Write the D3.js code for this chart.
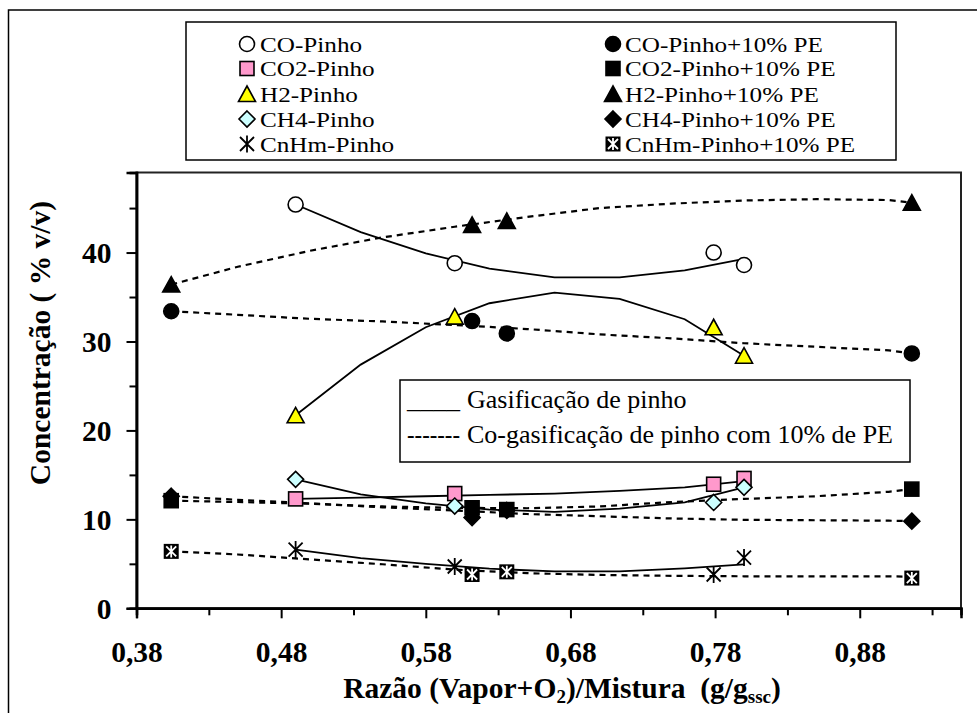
<!DOCTYPE html>
<html><head><meta charset="utf-8">
<script src="https://cdn.jsdelivr.net/npm/d3@7"></script>
<style>
body{margin:0;background:#fff}
svg{display:block}
</style>
</head><body>
<svg id="c" width="977" height="713"></svg>
<script>
// ---------------- DATA ----------------
const xPinho = [0.490, 0.600, 0.779, 0.800];
const coPinho = [45.4, 38.8, 40.0, 38.6];
const co2Pinho = [12.3, 12.9, 13.95, 14.6];
const h2Pinho = [21.7, 32.8, 31.6, 28.4];
const ch4Pinho = [14.5, 11.5, 11.9, 13.6];
const cnhmPinho = [6.6, 4.7, 3.8, 5.7];

const xPE = [0.404, 0.612, 0.636, 0.916];
const coPE = [33.4, 32.3, 30.9, 28.65];
const co2PE = [12.1, 11.3, 11.1, 13.4];
const h2PE = [36.4, 43.1, 43.55, 45.6];
const ch4PE = [12.6, 10.2, 11.0, 9.8];
const cnhmPE = [6.4, 3.8, 4.1, 3.4];

// trend lines
const trendXPinho = [0.49, 0.535, 0.58, 0.624, 0.669, 0.714, 0.759, 0.80];
const trendCoPinho = [45.4, 42.3, 39.9, 38.2, 37.2, 37.2, 38.0, 39.3];
const trendH2Pinho = [21.7, 27.4, 31.6, 34.3, 35.5, 34.8, 32.5, 28.4];
const trendCo2Pinho = [12.3, 12.45, 12.6, 12.75, 12.9, 13.2, 13.6, 14.3];
const trendCh4Pinho = [14.5, 12.8, 11.8, 11.1, 10.85, 11.2, 11.9, 13.6];
const trendCnhmPinho = [6.6, 5.65, 5.0, 4.45, 4.15, 4.15, 4.5, 4.95];

const trendXPE = [0.404, 0.45, 0.50, 0.55, 0.60, 0.65, 0.70, 0.75, 0.80, 0.85, 0.90, 0.916];
const trendCoPE = [33.4, 33.0, 32.55, 32.25, 31.85, 31.4, 30.8, 30.35, 29.8, 29.4, 29.0, 28.65];
const trendH2PE = [36.4, 38.4, 40.2, 41.7, 42.9, 44.0, 45.0, 45.5, 45.85, 46.0, 45.9, 45.6];
const trendCo2PE = [12.1, 11.95, 11.75, 11.45, 11.3, 11.25, 11.45, 11.95, 12.3, 12.6, 13.1, 13.4];
const trendCh4PE = [12.6, 12.2, 11.8, 11.35, 11.0, 10.6, 10.35, 10.1, 9.95, 9.9, 9.85, 9.8];
const trendCnhmPE = [6.4, 6.05, 5.5, 4.95, 4.35, 3.95, 3.75, 3.65, 3.6, 3.6, 3.6, 3.55];

const seriesNamesPinho = ["CO-Pinho", "CO2-Pinho", "H2-Pinho", "CH4-Pinho", "CnHm-Pinho"];
const seriesNamesPE = ["CO-Pinho+10% PE", "CO2-Pinho+10% PE", "H2-Pinho+10% PE", "CH4-Pinho+10% PE", "CnHm-Pinho+10% PE"];
const xTickLabels = ["0,38", "0,48", "0,58", "0,68", "0,78", "0,88"];
const xTickValues = [0.38, 0.48, 0.58, 0.68, 0.78, 0.88];
const xMinorTicks = [0.43, 0.53, 0.63, 0.73, 0.83, 0.93];
const yTickValues = [0, 10, 20, 30, 40];
const yMinorTicks = [5, 15, 25, 35, 45];
const innerLegendLabels = ["Gasificação de pinho", "Co-gasificação de pinho com 10% de PE"];

// ---------------- CHART ----------------
const FONT = '"Liberation Serif", Tinos, "Times New Roman", "Nimbus Roman", "DejaVu Serif", serif';
const svg = d3.select("#c");
const X0 = 136.5, X1 = 961, Y0 = 608.3, Y1 = 172.5;
const x = d3.scaleLinear().domain([0.38, 0.95]).range([X0, X1]);
const y = d3.scaleLinear().domain([0, 49]).range([Y0, Y1]);

// outer frame (cropped at right/bottom)
svg.append("rect").attr("x", 8.5).attr("y", 10).attr("width", 1100).attr("height", 900)
  .attr("fill", "none").attr("stroke", "#000").attr("stroke-width", 1.5);

// plot area frame
svg.append("rect").attr("x", X0).attr("y", Y1).attr("width", X1 - X0).attr("height", Y0 - Y1)
  .attr("fill", "none").attr("stroke", "#222").attr("stroke-width", 2);

// axes
const fmtX = d => xTickLabels[xTickValues.indexOf(d)];
const gx = svg.append("g").attr("transform", `translate(0,${Y0})`)
  .call(d3.axisBottom(x).tickValues(xTickValues).tickSize(10).tickFormat(fmtX));
gx.append("g").call(d3.axisBottom(x).tickValues(xMinorTicks).tickSize(7).tickFormat(""));
const gy = svg.append("g").attr("transform", `translate(${X0},0)`)
  .call(d3.axisLeft(y).tickValues(yTickValues).tickSize(10).tickFormat(d3.format("d")));
gy.append("g").call(d3.axisLeft(y).tickValues(yMinorTicks).tickSize(7).tickFormat(""));
[gx, gy].forEach(g => {
  g.attr("font-family", null).attr("font-size", null);
  g.selectAll("path.domain").attr("stroke", "#000").attr("stroke-width", 2.5);
  g.selectAll(".tick line").attr("stroke", "#000").attr("stroke-width", 2);
  g.selectAll(".tick text").attr("font-family", FONT)
    .attr("font-size", 29.5).attr("font-weight", "bold").attr("fill", "#000");
});
gx.selectAll(".tick text").attr("y", 54).attr("dy", 0);
gy.selectAll(".tick text").attr("x", -25).attr("dy", "0.33em");

// axis titles
const xt = svg.append("text").attr("x", 562).attr("y", 698).attr("text-anchor", "middle")
  .attr("font-family", FONT).attr("font-size", 29.5).attr("font-weight", "bold").style("white-space", "pre");
xt.append("tspan").text("Razão (Vapor+O");
xt.append("tspan").text("2").attr("font-size", 19).attr("dy", 5);
xt.append("tspan").text(")/Mistura  (g/g").attr("dy", -5);
xt.append("tspan").text("ssc").attr("font-size", 19).attr("dy", 5);
xt.append("tspan").text(")").attr("dy", -5);

svg.append("text").attr("transform", "translate(50,343) rotate(-90)").attr("text-anchor", "middle")
  .attr("font-family", FONT).attr("font-size", 29.5).attr("font-weight", "bold").style("white-space", "pre")
  .text("Concentração ( % v/v)");

// trend lines
const lineGen = d3.line().x(d => x(d[0])).y(d => y(d[1]));
const trendsPinho = [trendCoPinho, trendCo2Pinho, trendH2Pinho, trendCh4Pinho, trendCnhmPinho];
const trendsPE = [trendCoPE, trendCo2PE, trendH2PE, trendCh4PE, trendCnhmPE];
trendsPE.forEach(t => {
  svg.append("path").attr("d", lineGen(trendXPE.map((v, i) => [v, t[i]])))
    .attr("fill", "none").attr("stroke", "#000").attr("stroke-width", 2.2).attr("stroke-dasharray", "6,5");
});
trendsPinho.forEach(t => {
  svg.append("path").attr("d", lineGen(trendXPinho.map((v, i) => [v, t[i]])))
    .attr("fill", "none").attr("stroke", "#000").attr("stroke-width", 1.8);
});

// markers
function drawMarker(g, type, fill, cx, cy) {
  const s = g.append("g").attr("transform", `translate(${cx},${cy})`);
  if (type === "circle") {
    s.append("circle").attr("r", 7.5).attr("fill", fill).attr("stroke", "#000").attr("stroke-width", 1.6);
  } else if (type === "square") {
    s.append("rect").attr("x", -7).attr("y", -7).attr("width", 14).attr("height", 14)
      .attr("fill", fill).attr("stroke", "#000").attr("stroke-width", 1.6);
  } else if (type === "triangle") {
    s.append("path").attr("d", "M0,-8 L8.5,7.5 L-8.5,7.5 Z").attr("fill", fill).attr("stroke", "#000").attr("stroke-width", 1.6);
  } else if (type === "diamond") {
    s.append("path").attr("d", "M0,-8 L8,0 L0,8 L-8,0 Z").attr("fill", fill).attr("stroke", "#000").attr("stroke-width", 1.6);
  } else if (type === "star") {
    s.append("path").attr("d", "M-7,-7 L7,7 M-7,7 L7,-7 M0,-8.5 L0,8.5").attr("stroke", "#000").attr("stroke-width", 1.8);
  } else if (type === "boxstar") {
    s.append("rect").attr("x", -7.5).attr("y", -7.5).attr("width", 15).attr("height", 15).attr("fill", "#000");
    s.append("path").attr("d", "M-5,-5 L5,5 M-5,5 L5,-5 M0,-6 L0,6").attr("stroke", "#fff").attr("stroke-width", 1.8);
  }
}
const markerTypesPinho = [["circle", "#fff"], ["square", "#FF99CC"], ["triangle", "#FFFF00"], ["diamond", "#CCFFFF"], ["star", "none"]];
const markerTypesPE = [["circle", "#000"], ["square", "#000"], ["triangle", "#000"], ["diamond", "#000"], ["boxstar", "#000"]];
const valsPinho = [coPinho, co2Pinho, h2Pinho, ch4Pinho, cnhmPinho];
const valsPE = [coPE, co2PE, h2PE, ch4PE, cnhmPE];
const mg = svg.append("g");
valsPinho.forEach((vals, k) => vals.forEach((v, i) => drawMarker(mg, markerTypesPinho[k][0], markerTypesPinho[k][1], x(xPinho[i]), y(v))));
valsPE.forEach((vals, k) => vals.forEach((v, i) => drawMarker(mg, markerTypesPE[k][0], markerTypesPE[k][1], x(xPE[i]), y(v))));

// top legend
svg.append("rect").attr("x", 186).attr("y", 22).attr("width", 710).attr("height", 138)
  .attr("fill", "#fff").attr("stroke", "#000").attr("stroke-width", 1.5);
const lg = svg.append("g");
const rowY = [44, 68.5, 94, 119, 144];
const STRETCH = 1.17;
function legendText(px, py, str) {
  const t = lg.append("text").attr("x", px).attr("y", py).attr("font-family", FONT).attr("font-size", 21.5).text(str);
  const w = t.node().getComputedTextLength();
  t.attr("textLength", w * STRETCH).attr("lengthAdjust", "spacingAndGlyphs");
}
seriesNamesPinho.forEach((n, i) => {
  drawMarker(lg, markerTypesPinho[i][0], markerTypesPinho[i][1], 247, rowY[i]);
  legendText(260, rowY[i] + 7.5, n);
});
seriesNamesPE.forEach((n, i) => {
  drawMarker(lg, markerTypesPE[i][0], markerTypesPE[i][1], 613, rowY[i]);
  legendText(625, rowY[i] + 7.5, n);
});

// inner legend (text box)
svg.append("rect").attr("x", 400).attr("y", 380).attr("width", 510).attr("height", 82)
  .attr("fill", "#fff").attr("stroke", "#000").attr("stroke-width", 1.5);
const il = svg.append("g").attr("font-family", FONT).attr("font-size", 26);
il.append("text").attr("x", 407).attr("y", 408).attr("textLength", 53).attr("lengthAdjust", "spacingAndGlyphs").text("____");
il.append("text").attr("x", 467).attr("y", 408).text(innerLegendLabels[0]);
il.append("text").attr("x", 407).attr("y", 443).attr("textLength", 53).attr("lengthAdjust", "spacingAndGlyphs").text("-------");
il.append("text").attr("x", 467).attr("y", 443).text(innerLegendLabels[1]);
</script>
</body></html>
